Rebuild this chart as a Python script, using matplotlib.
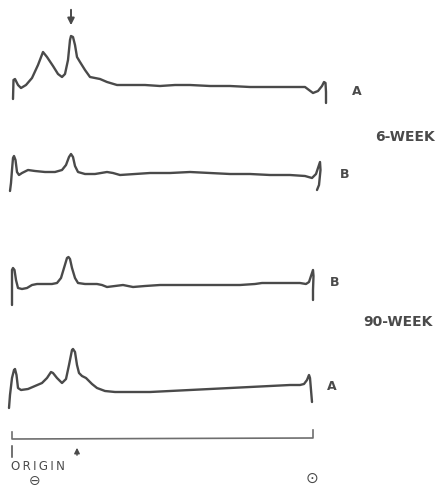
import matplotlib
matplotlib.use("Agg")
import matplotlib.pyplot as plt

# densitometer scans: distance from origin (arbitrary units), density above baseline
a6_x = [1, 1.5, 3, 6, 9, 14, 20, 26, 31, 35, 41, 46, 50, 53, 56, 58, 59, 61, 63, 65, 68, 73, 78, 83, 88,
        95, 105, 118, 133, 148, 163, 178, 198, 218, 238, 258, 278, 293, 301, 306, 310, 312, 313.5, 314, 314]
a6_d = [-11, 8, 9, 3, 0, 3, 10, 23, 36, 31, 22, 14, 11, 14, 28, 48, 52, 51, 43, 31, 26, 18, 11, 10, 9,
        6, 3, 3, 3, 2, 3, 3, 2, 2, 1, 1, 1, 1, -5, -3, 2, 6, 5, -4, -15]

b6_x = [-2, -1, 0, 1, 2, 3.5, 5, 7, 10, 16, 23, 33, 43, 50, 54, 57, 59, 61, 63, 66, 73, 83, 95, 101,
        108, 123, 138, 158, 178, 198, 218, 238, 258, 278, 293, 300, 304, 306, 308, 308.5, 307, 305]
b6_d = [-18, -10, 3, 15, 17, 13, 1, -2, 0, 3, 2, 1, 1, 3, 8, 16, 19, 16, 7, 1, -1, -1, 1, 0,
        -2, -1, 0, 0, 1, 0, -1, -1, -2, -2, -3, -5, -1, 5, 11, 3, -12, -17]

b90_x = [0, 0, 0, 1, 2.5, 4, 6, 10, 15, 20, 25, 33, 40, 45, 49, 52, 55, 56.5, 58, 60, 63, 66, 73, 85,
         90, 95, 103, 111, 121, 133, 148, 168, 188, 208, 228, 243, 250, 258, 273, 288, 294, 297, 299,
         301, 301.5, 301, 301]
b90_d = [-20, 0, 15, 17, 15, 5, -3, -4, -3, 0, 1, 1, 1, 2, 7, 17, 27, 28, 26, 17, 7, 2, 1, 1,
         0, -2, -1, 0, -2, -1, 0, 0, 0, 0, 0, 1, 2, 2, 2, 2, 1, 3, 9,
         15, 9, -5, -15]

a90_x = [-3, -2, 0, 2, 3, 4.5, 6, 9, 16, 23, 30, 35, 39, 41, 45, 50, 54, 57, 60, 61, 63, 65, 67, 70,
         74, 80, 85, 93, 103, 118, 138, 158, 178, 198, 218, 238, 258, 278, 288, 292, 295, 297, 298,
         299, 300]
a90_d = [-18, -5, 12, 20, 21, 15, 2, 0, 1, 4, 7, 12, 18, 17, 12, 7, 11, 25, 40, 41, 38, 25, 17, 14,
         12, 6, 2, -1, -2, -2, -2, -1, 0, 1, 2, 3, 4, 5, 5, 6, 10, 15, 12,
         0, -12]

scans = [("A", a6_x, a6_d), ("B", b6_x, b6_d), ("B", b90_x, b90_d), ("A", a90_x, a90_d)]
run_length = 301

ink = "#4a4a4a"
base = [402, 317, 205, 100]
label_pos = [(340, 398), (328, 315), (318, 207), (315, 104)]

fig = plt.figure(figsize=(4.42, 4.90), dpi=100)
ax = fig.add_axes([0, 0, 1, 1])
ax.set_xlim(-12, 430)
ax.set_ylim(0, 490)
ax.axis("off")

for (lab, xs, ds), y0, (lx, ly) in zip(scans, base, label_pos):
    ax.plot(xs, [y0 + d for d in ds], color=ink, lw=1.7,
            solid_joinstyle="round", solid_capstyle="round")
    ax.text(lx, ly, lab, color=ink, fontsize=9, fontweight="bold", ha="left", va="center")

ax.text(393, 353, "6-WEEK", color=ink, fontsize=10, fontweight="bold", ha="center", va="center")
ax.text(386, 168, "90-WEEK", color=ink, fontsize=10, fontweight="bold", ha="center", va="center")

# arrow marking the band of interest
ax.annotate("", xy=(59, 462), xytext=(59, 483),
            arrowprops=dict(arrowstyle="-|>", color=ink, lw=1.4, mutation_scale=10))

# migration scale
ax.plot([0, 0, run_length, run_length], [58, 51, 52, 60], color="#6e6e6e", lw=1.2)
ax.plot([0, 0], [44, 33], color=ink, lw=1.1)
ax.annotate("", xy=(65, 45), xytext=(65, 32),
            arrowprops=dict(arrowstyle="-|>", color=ink, lw=1.0, mutation_scale=8))
ax.text(-1, 24, "\u2009".join("ORIGIN"), color=ink, fontsize=8.5, ha="left", va="center")
ax.text(23, 9, "\u2296", color=ink, fontsize=10, ha="center", va="center")
ax.text(300, 12, "\u2299", color=ink, fontsize=11, ha="center", va="center")

fig.savefig("out.png", dpi=100)
